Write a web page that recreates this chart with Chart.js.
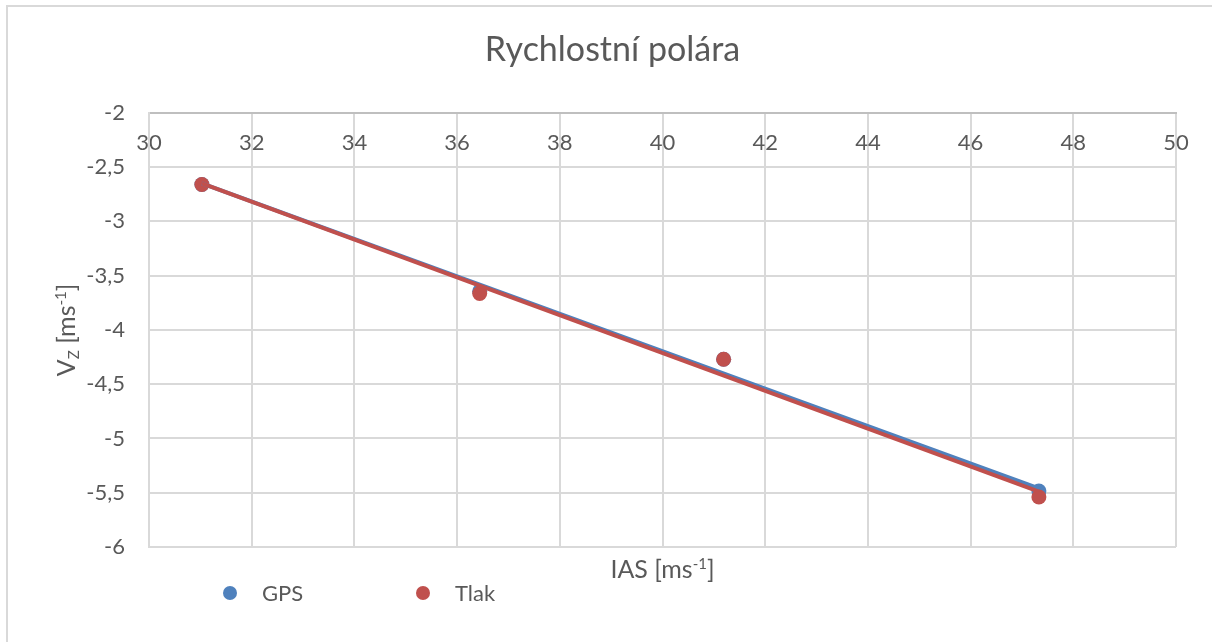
<!DOCTYPE html>
<html>
<head>
<meta charset="utf-8">
<script src="https://cdn.jsdelivr.net/npm/chart.js@4.4.1/dist/chart.umd.min.js"></script>
<style>
    html, body { margin: 0; padding: 0; background: #fff; }
    #wrap { width: 1212px; height: 642px; }
</style>
</head>
<body>
<div id="wrap"><canvas id="chart" width="1212" height="642"></canvas></div>
<script>
// values
const iasValues = [31.03, 36.44, 41.19, 47.33];
const gpsValues = [-2.66, -3.645, -4.27, -5.485];
const tlakValues = [-2.66, -3.665, -4.27, -5.54];
// linear trendlines (end points)
const trendX = [31.03, 47.33];
const gpsTrend = [-2.65, -5.46];
const tlakTrend = [-2.65, -5.49];
const seriesNames = ['GPS', 'Tlak'];
const seriesColors = ['#4F81BD', '#C0504D'];

const FONT = 'Lato, Carlito, Calibri, sans-serif';
const TEXT = '#595959';

Chart.defaults.font.family = FONT;
Chart.defaults.color = TEXT;

function pts(xs, ys) {
    return xs.map((x, i) => ({ x: x, y: ys[i] }));
}

// draws pieces of text (with sub/superscripts) centred on cx
function drawPieces(ctx, pieces, cx, baseline) {
    let total = 0;
    pieces.forEach(p => {
        ctx.font = `${p.size}px ${FONT}`;
        p.w = ctx.measureText(p.t).width;
        total += p.w;
    });
    let x = cx - total / 2;
    ctx.textAlign = 'left';
    ctx.textBaseline = 'alphabetic';
    pieces.forEach(p => {
        ctx.font = `${p.size}px ${FONT}`;
        ctx.fillText(p.t, x, baseline + (p.dy || 0));
        x += p.w;
    });
}

const extras = {
    id: 'extras',
    beforeDraw(chart) {
        const ctx = chart.ctx;
        ctx.save();
        ctx.fillStyle = '#fff';
        ctx.fillRect(0, 0, chart.width, chart.height);
        ctx.strokeStyle = '#d9d9d9';
        ctx.lineWidth = 2;
        ctx.beginPath();
        ctx.moveTo(7, chart.height);
        ctx.lineTo(7, 6);
        ctx.lineTo(chart.width, 6);
        ctx.stroke();
        ctx.restore();
    },
    afterDraw(chart) {
        const ctx = chart.ctx;
        const area = chart.chartArea;
        ctx.save();
        ctx.fillStyle = TEXT;

        // x axis title
        drawPieces(ctx, [
            { t: 'IAS [ms', size: 25 },
            { t: '-1', size: 15, dy: -9 },
            { t: ']', size: 25 }
        ], (area.left + area.right) / 2, 578);

        // y axis title
        ctx.save();
        ctx.translate(75, (area.top + area.bottom) / 2);
        ctx.rotate(-Math.PI / 2);
        drawPieces(ctx, [
            { t: 'V', size: 25 },
            { t: 'Z', size: 15, dy: 4 },
            { t: ' [ms', size: 25 },
            { t: '-1', size: 15, dy: -9 },
            { t: ']', size: 25 }
        ], 0, 0);
        ctx.restore();

        // legend
        const legendX = [230, 423];
        seriesNames.forEach((name, i) => {
            ctx.beginPath();
            ctx.fillStyle = seriesColors[i];
            ctx.arc(legendX[i], 593, 7, 0, Math.PI * 2);
            ctx.fill();
            ctx.fillStyle = TEXT;
            ctx.font = `22px ${FONT}`;
            ctx.textAlign = 'left';
            ctx.textBaseline = 'alphabetic';
            ctx.fillText(name, legendX[i] + 32, 601);
        });
        ctx.restore();
    }
};

new Chart(document.getElementById('chart'), {
    type: 'scatter',
    data: {
        datasets: [
            {
                label: seriesNames[0] + ' trend', data: pts(trendX, gpsTrend), showLine: true,
                borderColor: seriesColors[0], borderWidth: 4, pointRadius: 0, order: 1
            },
            {
                label: seriesNames[1] + ' trend', data: pts(trendX, tlakTrend), showLine: true,
                borderColor: seriesColors[1], borderWidth: 4, pointRadius: 0, order: 0
            },
            {
                label: seriesNames[0], data: pts(iasValues, gpsValues),
                backgroundColor: seriesColors[0], borderColor: seriesColors[0],
                pointRadius: 7.5, borderWidth: 0, order: 3
            },
            {
                label: seriesNames[1], data: pts(iasValues, tlakValues),
                backgroundColor: seriesColors[1], borderColor: seriesColors[1],
                pointRadius: 7.5, borderWidth: 0, order: 2
            }
        ]
    },
    options: {
        responsive: false,
        animation: false,
        layout: { padding: { left: 49, right: 36, top: 0, bottom: 95 } },
        plugins: {
            legend: { display: false },
            tooltip: { enabled: false },
            title: {
                display: true,
                text: 'Rychlostní polára',
                color: TEXT,
                font: { size: 34, weight: 'normal' },
                padding: { top: 30, bottom: 42 }
            }
        },
        scales: {
            x: {
                type: 'linear',
                position: 'top',
                min: 30,
                max: 50,
                afterFit: s => { s.height = 0; },
                ticks: { stepSize: 2, mirror: true, padding: 17, color: TEXT, font: { size: 22 } },
                grid: { color: '#d9d9d9', lineWidth: 2, drawTicks: false },
                border: { color: '#bfbfbf', width: 2 }
            },
            y: {
                type: 'linear',
                min: -6,
                max: -2,
                afterFit: s => { s.width = 100; },
                ticks: {
                    stepSize: 0.5, padding: 24, color: TEXT, font: { size: 22 },
                    callback: v => String(v).replace('.', ',')
                },
                grid: { color: '#d9d9d9', lineWidth: 2, drawTicks: false },
                border: { color: '#d9d9d9', width: 2 }
            }
        }
    },
    plugins: [extras]
});
</script>
</body>
</html>
